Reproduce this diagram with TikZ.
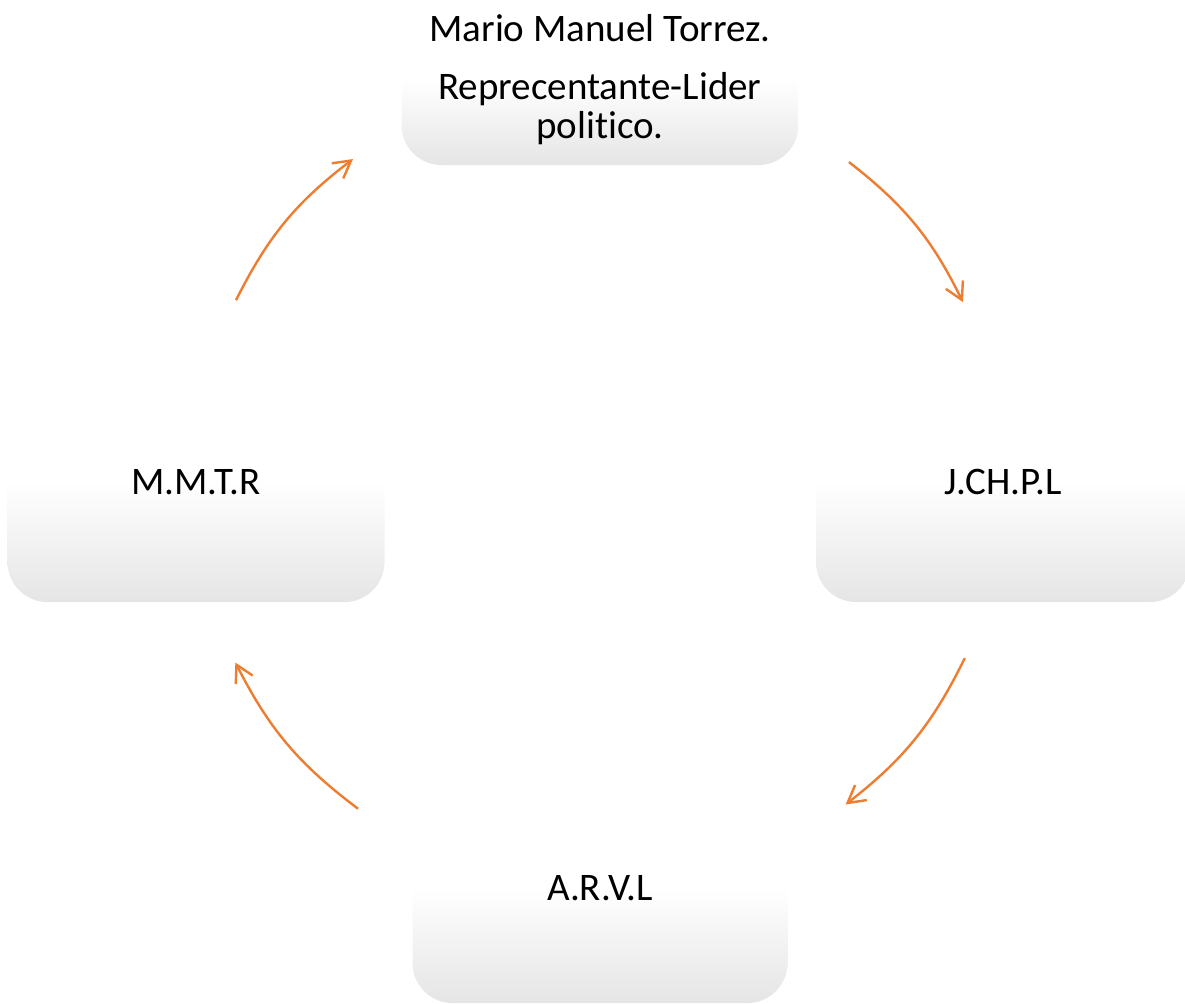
\documentclass[tikz,border=0pt]{standalone}
\usepackage{fontspec}
\setmainfont{Carlito}[Ligatures=NoCommon]
\usepackage{tikz}
\usetikzlibrary{arrows.meta, positioning}
\definecolor{boxgray}{RGB}{229,229,229}
\definecolor{cycleorange}{RGB}{237,125,49}

\begin{document}
\begin{tikzpicture}[x=0.5pt, y=-0.5pt,
  cyclebox/.style={rectangle, rounded corners=20pt, inner sep=0pt,
                   top color=white, bottom color=boxgray, middle color=white,
                   align=center, font=\fontsize{19.5pt}{19.5pt}\selectfont},
  cyclearrow/.style={draw=cycleorange, line width=1.2pt,
                     -{Straight Barb[length=8.5pt, width=9.5pt]}}]
\useasboundingbox (0,0) rectangle (1185,1003);
%
\node[cyclebox, minimum width=198.5pt, minimum height=85pt] (lider) at (600,80)
  {Mario Manuel Torrez.\\[9.5pt] Reprecentante-Lider\\ politico.};
\node[cyclebox, minimum width=187pt, minimum height=120pt] (jchpl) at (1003,482) {J.CH.P.L};
\node[cyclebox, minimum width=187.5pt, minimum height=115pt] (arvl) at (600,888) {A.R.V.L};
\node[cyclebox, minimum width=188.5pt, minimum height=120pt] (mmtr) at (196,482) {M.M.T.R};
%
\coordinate (ctr) at (599,482);
\path (ctr) ++(52:203pt)     coordinate (a1s)
      (ctr) ++(26.3:203pt)   coordinate (a1e)
      (ctr) ++(-25.7:203pt)  coordinate (a2s)
      (ctr) ++(-52.6:203pt)  coordinate (a2e)
      (ctr) ++(-126.4:203pt) coordinate (a3s)
      (ctr) ++(-153.6:203pt) coordinate (a3e)
      (ctr) ++(153.4:203pt)  coordinate (a4s)
      (ctr) ++(127.3:203pt)  coordinate (a4e);
%
\draw[cyclearrow] (a1s) to[bend left=13] (a1e);
\draw[cyclearrow] (a2s) to[bend left=13] (a2e);
\draw[cyclearrow] (a3s) to[bend left=13] (a3e);
\draw[cyclearrow] (a4s) to[bend left=13] (a4e);
%
\end{tikzpicture}
\end{document}
